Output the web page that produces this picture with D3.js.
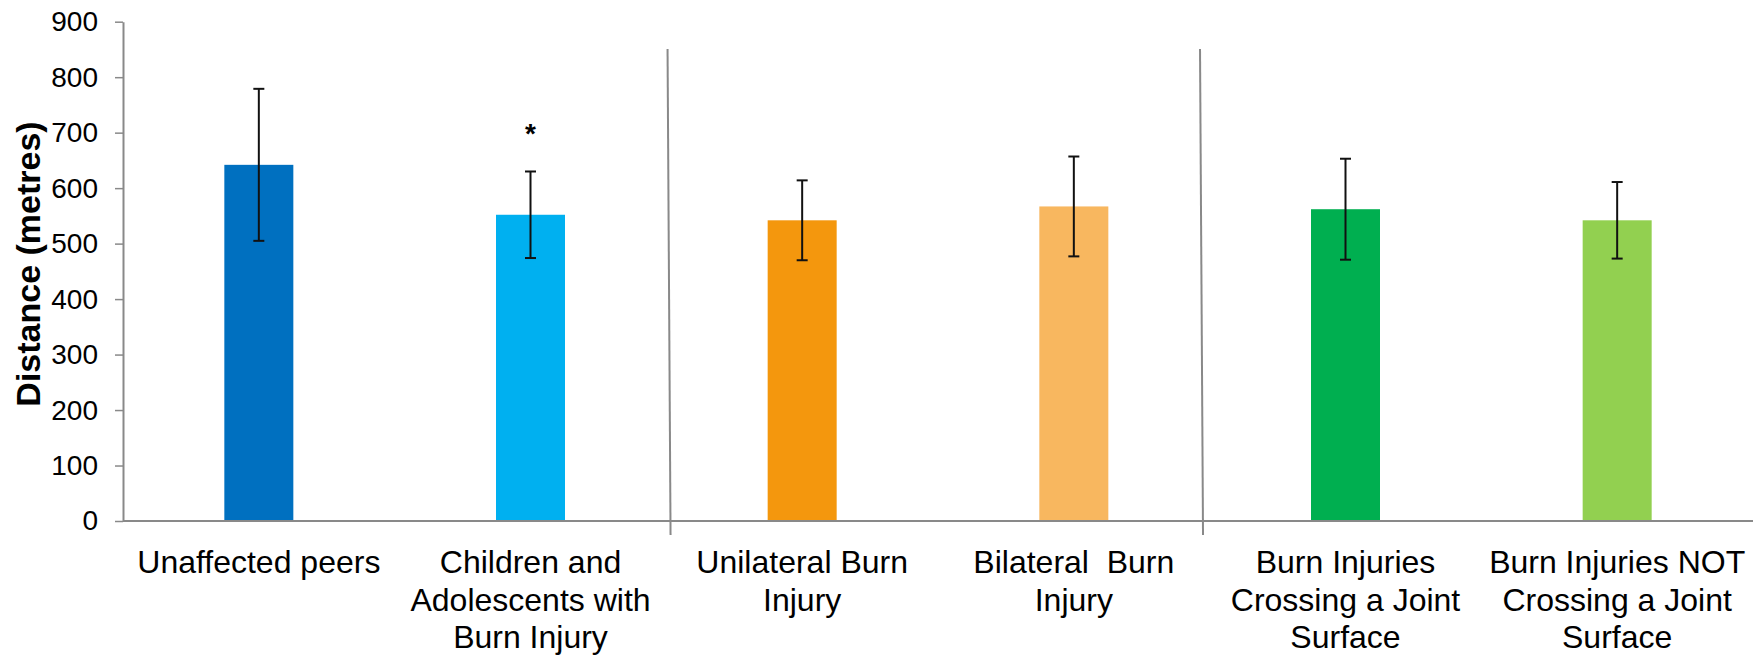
<!DOCTYPE html>
<html>
<head>
<meta charset="utf-8">
<script src="https://cdn.jsdelivr.net/npm/d3@7"></script>
<style>
  body { margin: 0; background: #fff; }
  svg { display: block; font-family: "Liberation Sans", Arial, sans-serif; }
</style>
</head>
<body>
<svg id="chart" width="1758" height="655"></svg>
<script>
// ---- data ----
const categories = [
  "Unaffected peers",
  "Children and Adolescents with Burn Injury",
  "Unilateral Burn Injury",
  "Bilateral  Burn Injury",
  "Burn Injuries Crossing a Joint Surface",
  "Burn Injuries NOT Crossing a Joint Surface"
];
const labelLines = [
  ["Unaffected peers"],
  ["Children and", "Adolescents with", "Burn Injury"],
  ["Unilateral Burn", "Injury"],
  ["Bilateral  Burn", "Injury"],
  ["Burn Injuries", "Crossing a Joint", "Surface"],
  ["Burn Injuries NOT", "Crossing a Joint", "Surface"]
];
const means  = [642, 552, 542, 567, 562, 542];
const errors = [137, 78, 72, 90, 91, 69];
const marks  = ["", "*", "", "", "", ""];
const colors = ["#0070C0", "#00B0F0", "#F4970D", "#F8B75F", "#00AF50", "#92D050"];
const yTicks = [0, 100, 200, 300, 400, 500, 600, 700, 800, 900];
const separators = [2.01, 3.97]; // in category units, between groups

// ---- layout ----
const svg = d3.select('#chart');
const plotL = 123, plotR = 1753, plotT = 21.7, plotB = 521;
const axisGrey = '#898989';

const x = d3.scaleBand().domain(categories).range([plotL, plotR]).padding(0);
const xu = d3.scaleLinear().domain([0, categories.length]).range([plotL, plotR]);
const y = d3.scaleLinear().domain([0, 900]).range([plotB, plotT]);
const barW = x.bandwidth() * 0.254;
const cx = d => x(d) + x.bandwidth() / 2;

// bars
svg.append('g').selectAll('rect').data(categories).enter().append('rect')
  .attr('x', d => cx(d) - barW / 2)
  .attr('width', barW)
  .attr('y', (d, i) => y(means[i]))
  .attr('height', (d, i) => y(0) - y(means[i]) + 1)
  .attr('fill', (d, i) => colors[i]);

// error bars
const eb = svg.append('g').attr('stroke', '#111').attr('stroke-width', 2);
categories.forEach((c, i) => {
  const mx = cx(c);
  const hi = y(means[i] + errors[i]), lo = y(means[i] - errors[i]);
  eb.append('line').attr('x1', mx).attr('x2', mx).attr('y1', hi).attr('y2', lo);
  eb.append('line').attr('x1', mx - 5.5).attr('x2', mx + 5.5).attr('y1', hi).attr('y2', hi);
  eb.append('line').attr('x1', mx - 5.5).attr('x2', mx + 5.5).attr('y1', lo).attr('y2', lo);
});

// significance marks
svg.append('g').selectAll('text').data(categories).enter().append('text')
  .attr('x', d => cx(d))
  .attr('y', (d, i) => y(means[i] + errors[i]) - 28)
  .attr('text-anchor', 'middle')
  .attr('font-size', 28)
  .attr('font-weight', 'bold')
  .text((d, i) => marks[i]);

// group separators (slightly slanted, as drawn in the original)
svg.append('g').selectAll('line').data(separators).enter().append('line')
  .attr('x1', d => xu(d) - 1.5).attr('y1', 49)
  .attr('x2', d => xu(d) + 1.5).attr('y2', 535)
  .attr('stroke', axisGrey).attr('stroke-width', 2);

// y axis
const yAxis = svg.append('g').attr('transform', `translate(${plotL},0)`)
  .call(d3.axisLeft(y).tickValues(yTicks).tickSize(8).tickPadding(17).tickSizeOuter(0));
yAxis.select('.domain').attr('stroke', axisGrey).attr('stroke-width', 2);
yAxis.selectAll('.tick line').attr('stroke', axisGrey).attr('stroke-width', 1.5);
yAxis.selectAll('.tick text').attr('font-size', 28).attr('fill', '#000')
  .attr('font-family', '"Liberation Sans", Arial, sans-serif');

// x axis line
svg.append('line').attr('x1', plotL).attr('x2', plotR).attr('y1', y(0)).attr('y2', y(0))
  .attr('stroke', axisGrey).attr('stroke-width', 2);

// category labels
const lab = svg.append('g').selectAll('text').data(categories).enter().append('text')
  .attr('text-anchor', 'middle')
  .attr('font-size', 32)
  .style('white-space', 'pre');
lab.each(function (d, i) {
  const t = d3.select(this);
  labelLines[i].forEach((ln, j) => {
    t.append('tspan').attr('x', cx(d)).attr('y', 573 + j * 37.5).text(ln);
  });
});

// y title
svg.append('text')
  .attr('transform', 'translate(28,264) rotate(-90)')
  .attr('text-anchor', 'middle')
  .attr('dominant-baseline', 'central')
  .attr('font-size', 34)
  .attr('font-weight', 'bold')
  .text('Distance (metres)');
</script>
</body>
</html>
